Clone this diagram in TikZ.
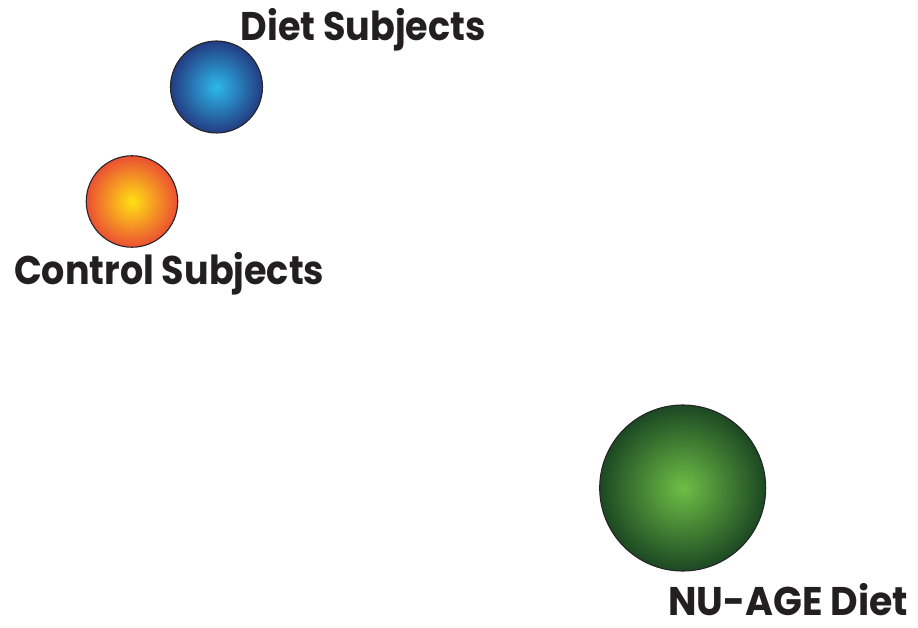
\documentclass[tikz,border=0pt]{standalone}
\usepackage{fontspec}
\setmainfont{Poppins}
\definecolor{txt}{RGB}{35,31,32}
\definecolor{bluein}{RGB}{45,185,235}
\definecolor{blueout}{RGB}{35,60,130}
\definecolor{orin}{RGB}{255,225,20}
\definecolor{orout}{RGB}{235,80,50}
\definecolor{grin}{RGB}{110,190,70}
\definecolor{grout}{RGB}{28,72,35}
\newcommand{\fitw}[2]{\resizebox{#1}{\height}{#2}}
\begin{document}
\begin{tikzpicture}[x=1pt,y=-1pt,
  ball/.style={circle, draw=black!85, line width=1.1pt, inner sep=0pt},
  lbl/.style={anchor=base west, inner sep=0pt, text=txt, font=\fontsize{40}{40}\selectfont\bfseries}]
\useasboundingbox (0,0) rectangle (918,628);
\node[ball, minimum size=92pt, inner color=bluein, outer color=blueout] (diet) at (216.5,87) {};
\node[ball, minimum size=91.5pt, inner color=orin, outer color=orout] (ctrl) at (132,201.5) {};
\node[ball, minimum size=166pt, inner color=grin, outer color=grout] (nuage) at (682.7,488) {};
\node[lbl] (tdiet) at (240.5,40.7) {\fitw{245pt}{Diet Subjects}};
\node[lbl] (tctrl) at (14,285) {\fitw{310pt}{Control Subjects}};
\node[lbl] (tnu) at (668,615.7) {\fitw{240pt}{NU-AGE Diet}};
\end{tikzpicture}
\end{document}
